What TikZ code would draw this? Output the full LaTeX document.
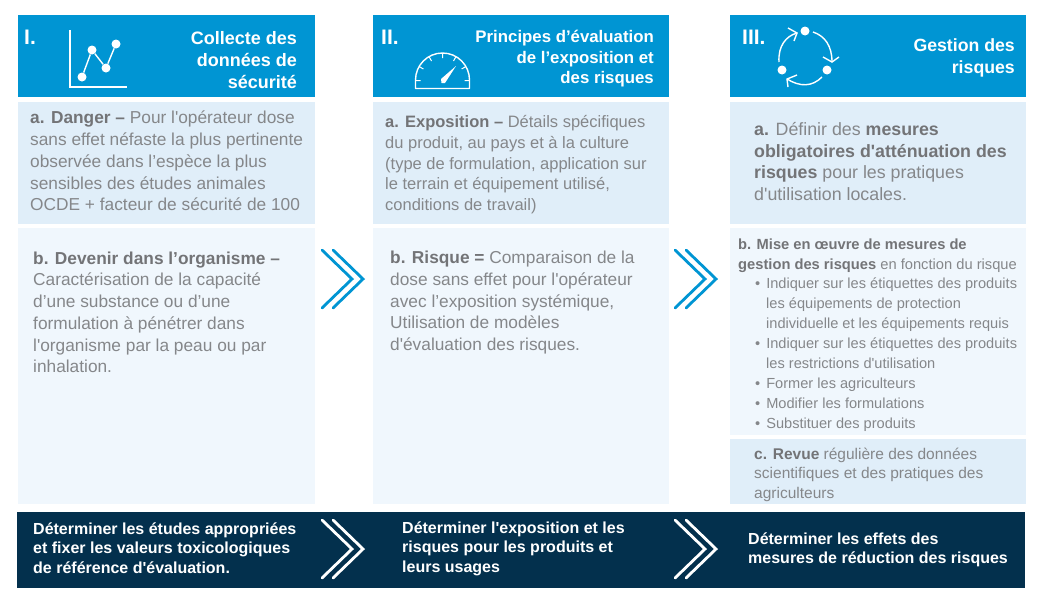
\documentclass[tikz,border=0pt]{standalone}
\usepackage{fontspec}
\setmainfont{Liberation Sans}[Ligatures=TeXOff]
\definecolor{hdr}{HTML}{0095D3}
\definecolor{boxa}{HTML}{E0EEF9}
\definecolor{boxb}{HTML}{F0F7FD}
\definecolor{band}{HTML}{03304D}
\definecolor{txt}{HTML}{85878A}
\definecolor{txtb}{HTML}{737477}
\newcommand{\BX}[6]{\node[#1,minimum width=#4pt-#2pt,minimum height=#5pt-#3pt,anchor=north west] (#6) at (#2,#3) {};}
\newcommand{\CHV}[3]{\draw[chev,#3] (#1,#2-29) -- (#1+30,#2) -- (#1,#2+29) (#1+11,#2-29) -- (#1+41,#2) -- (#1+11,#2+29);}
\newcommand{\B}[1]{\textcolor{txtb}{\textbf{#1}}}
\newcommand{\FS}[2]{\fontsize{#1}{#2}\selectfont}
\tikzset{
 x=1pt,y=-1pt,
 boxshape/.style={inner sep=0pt,outer sep=0pt,draw=none,rectangle},
 hdrbox/.style={boxshape,fill=hdr},
 abox/.style={boxshape,fill=boxa},
 bbox/.style={boxshape,fill=boxb},
 bandbox/.style={boxshape,fill=band},
 bodytxt/.style={text=txt,align=left,anchor=north west,inner sep=0pt},
 hdrtxt/.style={text=white,align=right,anchor=east,inner sep=0pt},
 numtxt/.style={text=white,font=\FS{21}{23}\bfseries,anchor=north west,inner sep=0pt},
 bandtxt/.style={text=white,font=\FS{16}{19.5}\bfseries,align=left,anchor=west,inner sep=0pt},
 icon/.style={draw=white,line width=1.4pt},
 dot/.style={circle,fill=white,inner sep=0pt,minimum size=9pt},
 chev/.style={line width=2.8pt,line join=miter,line cap=round},
}
\begin{document}
\begin{tikzpicture}
\useasboundingbox (0,0) rectangle (1043,600);
\BX{hdrbox}{18}{15}{315}{97}{h1}
\BX{hdrbox}{373}{15}{669}{97}{h2}
\BX{hdrbox}{730}{15}{1026}{97}{h3}
\BX{abox}{18}{102}{315}{224}{a1}
\BX{abox}{373}{102}{669}{224}{a2}
\BX{abox}{730}{102}{1026}{224}{a3}
\BX{bbox}{18}{228}{315}{504}{b1}
\BX{bbox}{373}{228}{669}{504}{b2}
\BX{bbox}{730}{228}{1026}{435}{b3}
\BX{abox}{730}{439}{1026}{504}{c3}
\BX{bandbox}{17}{512}{1025}{588}{bd}
% header text
\node[numtxt] (n1) at (24,30) {I.};
\node[numtxt] (n2) at (381,30) {II.};
\node[numtxt] (n3) at (742,30) {III.};
\node[hdrtxt,font=\FS{18}{22}\bfseries] (t1) at (297,60) {Collecte des\\données de\\sécurité};
\node[hdrtxt,font=\FS{16.8}{20.5}\bfseries] (t2) at (654,59) {Principes d’évaluation\\de l’exposition et\\des risques};
\node[hdrtxt,font=\FS{17.7}{22}\bfseries] (t3) at (1015,58) {Gestion des\\risques};
% icon 1
\draw[icon] (70,30) -- (70,87) -- (127,87);
\node[dot] (p1) at (82,77) {};
\node[dot] (p2) at (92,50) {};
\node[dot] (p3) at (106,68) {};
\node[dot] (p4) at (116,44) {};
\draw[icon] (p1) -- (p2) -- (p3) -- (p4);
% icon 2
\draw[icon,line join=round] (415.5,88.5) -- (415.5,80) arc[start angle=180,end angle=360,radius=27] -- (469.5,88.5) -- cycle;
\draw[icon,line width=1pt] (442.5,53) -- (442.5,58) (415.5,80.5) -- (420.5,80.5) (469.5,80.5) -- (464.5,80.5)
 (419.1,66.5) -- (423.4,69) (465.9,66.5) -- (461.6,69) (429,56.6) -- (431.5,61) (456,56.6) -- (453.5,61);
\fill[white] (441,79) -- (456,66) -- (445,83) -- (441.5,83) -- cycle;
% icon 3
\node[dot] (c1) at (805,31) {};
\node[dot] (c2) at (827,70) {};
\node[dot] (c3) at (782,70) {};
\draw[icon] (779,62) .. controls (778,46) and (786,36) .. (797,33);
\draw[icon] (788,28) -- (797,33) -- (794,41);
\draw[icon] (813,32) .. controls (825,36) and (832,46) .. (832,62);
\draw[icon] (823,57) -- (832,62) -- (839,57);
\draw[icon] (822,77) .. controls (812,87) and (800,87) .. (787,79);
\draw[icon] (797,75) -- (787,79) -- (788,87);
% body text
\node[bodytxt,font=\FS{17.3}{21.7}] (ta1) at (30,111) {\B{a. Danger –} Pour l'opérateur dose\\sans effet néfaste la plus pertinente\\observée dans l’espèce la plus\\sensibles des études animales\\OCDE + facteur de sécurité de 100};
\node[bodytxt,font=\FS{16.5}{20.6}] (ta2) at (385,115.5) {\B{a. Exposition –} Détails spécifiques\\du produit, au pays et à la culture\\(type de formulation, application sur\\le terrain et équipement utilisé,\\conditions de travail)};
\node[bodytxt,font=\FS{17.8}{21.7}] (ta3) at (754,122) {\B{a.} Définir des \B{mesures}\\\B{obligatoires d'atténuation des}\\\B{risques} pour les pratiques\\d'utilisation locales.};
\node[bodytxt,font=\FS{17.3}{21.7}] (tb1) at (33,251.5) {\B{b. Devenir dans l’organisme –}\\Caractérisation de la capacité\\d’une substance ou d’une\\formulation à pénétrer dans\\l'organisme par la peau ou par\\inhalation.};
\node[bodytxt,font=\FS{17.3}{21.7}] (tb2) at (390,251) {\B{b. Risque =} Comparaison de la\\dose sans effet pour l'opérateur\\avec l’exposition systémique,\\Utilisation de modèles\\d'évaluation des risques.};
\node[bodytxt,font=\FS{14.7}{20}] (tb3) at (738,238.5) {\B{b. Mise en œuvre de mesures de}\\\B{gestion des risques} en fonction du risque};
\node[bodytxt,font=\FS{14.6}{20}] (tb4) at (755,278) {•\hspace{6pt}Indiquer sur les étiquettes des produits\\\hspace{11pt}les équipements de protection\\\hspace{11pt}individuelle et les équipements requis\\•\hspace{6pt}Indiquer sur les étiquettes des produits\\\hspace{11pt}les restrictions d'utilisation\\•\hspace{6pt}Former les agriculteurs\\•\hspace{6pt}Modifier les formulations\\•\hspace{6pt}Substituer des produits};
\node[bodytxt,font=\FS{15.5}{19.5}] (tc3) at (754,447.5) {\B{c. Revue} régulière des données\\scientifiques et des pratiques des\\agriculteurs};
\node[bandtxt] (d1) at (33,548) {Déterminer les études appropriées\\et fixer les valeurs toxicologiques\\de référence d'évaluation.};
\node[bandtxt] (d2) at (402,548.5) {Déterminer l'exposition et les\\risques pour les produits et\\leurs usages};
\node[bandtxt] (d3) at (748,550) {Déterminer les effets des\\mesures de réduction des risques};
% chevrons
\CHV{322}{279}{draw=hdr}
\CHV{675}{279}{draw=hdr}
\CHV{322}{549}{draw=white}
\CHV{675}{549}{draw=white}
\end{tikzpicture}
\end{document}
